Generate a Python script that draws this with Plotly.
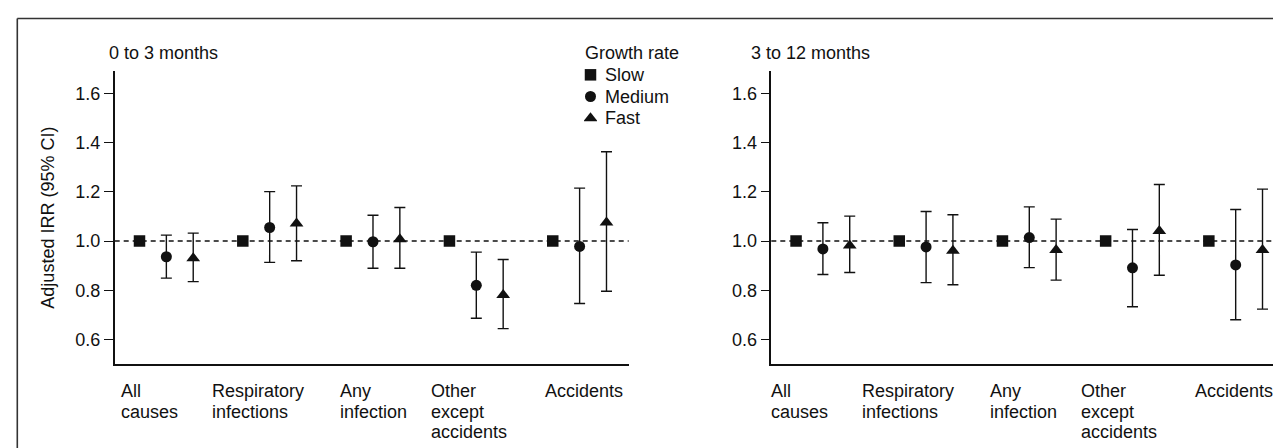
import plotly.graph_objects as go

# ---------------- data ----------------
categories = ["All causes", "Respiratory infections", "Any infection",
              "Other except accidents", "Accidents"]
category_label_lines = [["All", "causes"], ["Respiratory", "infections"], ["Any", "infection"],
                        ["Other", "except", "accidents"], ["Accidents"]]
periods = ["0 to 3 months", "3 to 12 months"]
growth_groups = ["Slow", "Medium", "Fast"]
legend_title = "Growth rate"
y_title = "Adjusted IRR (95% CI)"
y_ticks = [0.6, 0.8, 1.0, 1.2, 1.4, 1.6]

# reference group (Slow) = 1.0
slow_03 = [1.0, 1.0, 1.0, 1.0, 1.0]
medium_03 = [0.936, 1.055, 0.997, 0.820, 0.978]
medium_03_lo = [0.849, 0.913, 0.889, 0.686, 0.746]
medium_03_hi = [1.024, 1.201, 1.105, 0.955, 1.215]
fast_03 = [0.930, 1.071, 1.007, 0.781, 1.075]
fast_03_lo = [0.835, 0.920, 0.889, 0.644, 0.796]
fast_03_hi = [1.032, 1.224, 1.136, 0.925, 1.363]

slow_312 = [1.0, 1.0, 1.0, 1.0, 1.0]
medium_312 = [0.968, 0.976, 1.014, 0.891, 0.903]
medium_312_lo = [0.864, 0.831, 0.892, 0.733, 0.680]
medium_312_hi = [1.074, 1.120, 1.139, 1.047, 1.128]
fast_312 = [0.982, 0.960, 0.963, 1.041, 0.963]
fast_312_lo = [0.872, 0.822, 0.841, 0.861, 0.723]
fast_312_hi = [1.101, 1.107, 1.089, 1.230, 1.211]

# ---------------- layout constants ----------------
W, H = 1281, 448
FONT = "Liberation Sans, Arial, Helvetica, sans-serif"
FS = 18
INK = "#111111"
OFFSET = 0.26
SYMBOLS = {"Slow": "square", "Medium": "circle", "Fast": "triangle-up"}
SIZES = {"Slow": 11.5, "Medium": 11, "Fast": 12}
label_shift_px = [-47.5, -59.6, -35, -47.7, -37.1]
panel_label_shift = [0, -6]
label_top_px = 383
label_line_px = 20.7
title_left_px = [99, 740.7]
x_domains = [[106.7 / W, 620.7 / W], [763.3 / W, 1276.7 / W]]
y_domain = [1 - 356 / H, 1 - 63.3 / H]
legend_key_domain_x = [576 / W, 589 / W]
legend_key_domain_y = [1 - 121 / H, 1 - 56 / H]

panels = [
    (slow_03, medium_03, medium_03_lo, medium_03_hi, fast_03, fast_03_lo, fast_03_hi),
    (slow_312, medium_312, medium_312_lo, medium_312_hi, fast_312, fast_312_lo, fast_312_hi),
]

fig = go.Figure()
n = len(categories)
idx = list(range(n))

for p, (slow, med, med_lo, med_hi, fast, fast_lo, fast_hi) in enumerate(panels):
    xa = "x" if p == 0 else "x2"
    ya = "y" if p == 0 else "y2"
    fig.add_trace(go.Scatter(
        x=[i - OFFSET for i in idx], y=slow, mode="markers", name="Slow",
        xaxis=xa, yaxis=ya, showlegend=False, customdata=categories,
        marker=dict(symbol=SYMBOLS["Slow"], size=SIZES["Slow"], color=INK),
    ))
    fig.add_trace(go.Scatter(
        x=idx, y=med, mode="markers", name="Medium",
        xaxis=xa, yaxis=ya, showlegend=False, customdata=categories,
        marker=dict(symbol=SYMBOLS["Medium"], size=SIZES["Medium"], color=INK),
        error_y=dict(type="data", symmetric=False,
                     array=[h - v for h, v in zip(med_hi, med)],
                     arrayminus=[v - l for v, l in zip(med, med_lo)],
                     color=INK, thickness=1.4, width=5.5),
    ))
    fig.add_trace(go.Scatter(
        x=[i + OFFSET for i in idx], y=fast, mode="markers", name="Fast",
        xaxis=xa, yaxis=ya, showlegend=False, customdata=categories,
        marker=dict(symbol=SYMBOLS["Fast"], size=SIZES["Fast"], color=INK),
        error_y=dict(type="data", symmetric=False,
                     array=[h - v for h, v in zip(fast_hi, fast)],
                     arrayminus=[v - l for v, l in zip(fast, fast_lo)],
                     color=INK, thickness=1.4, width=5.5),
    ))

# legend keys: one marker per growth group on a small key axis (row index)
for r, g in enumerate(growth_groups):
    fig.add_trace(go.Scatter(
        x=[0], y=[r], mode="markers", name=g, xaxis="x3", yaxis="y3",
        showlegend=False, hoverinfo="skip",
        marker=dict(symbol=SYMBOLS[g], size=SIZES[g], color=INK),
    ))

axis_common_x = dict(range=[-0.5, 4.475], showline=True, linecolor=INK, linewidth=1.5,
                     showgrid=False, zeroline=False, showticklabels=False, ticks="",
                     fixedrange=True)
axis_common_y = dict(range=[0.5, 1.69], domain=y_domain, showline=True, linecolor=INK,
                     linewidth=1.5, showgrid=False, zeroline=False, ticks="outside",
                     ticklen=9, tickwidth=1.3, tickcolor=INK, tickvals=y_ticks,
                     tickformat=".1f", tickfont=dict(family=FONT, size=FS, color=INK),
                     fixedrange=True)
hidden_axis = dict(visible=False, showgrid=False, zeroline=False, fixedrange=True)

txt = dict(family=FONT, size=FS, color=INK)
annotations = []
shapes = []
for p in range(2):
    xa = "x" if p == 0 else "x2"
    ya = "y" if p == 0 else "y2"
    annotations.append(dict(text=periods[p], xref="paper", yref="paper",
                            x=title_left_px[p] / W, y=1 - 45 / H, xanchor="left",
                            yanchor="middle", showarrow=False, font=txt))
    for i, lines in enumerate(category_label_lines):
        for k, line in enumerate(lines):
            annotations.append(dict(text=line, xref=xa, yref="paper", x=i,
                                    xshift=label_shift_px[i] + panel_label_shift[p],
                                    y=1 - (label_top_px + k * label_line_px) / H,
                                    xanchor="left", yanchor="middle", align="left",
                                    showarrow=False, font=txt))
    shapes.append(dict(type="line", xref=f"{xa} domain", yref=ya, x0=0, x1=1, y0=1, y1=1,
                       line=dict(color=INK, width=1.3, dash="5px,4px"), layer="below"))

annotations.append(dict(text=y_title, xref="paper", yref="paper",
                        x=40 / W, y=(y_domain[0] + y_domain[1]) / 2, textangle=-90,
                        xanchor="center", yanchor="middle", showarrow=False, font=txt))
annotations.append(dict(text=legend_title, xref="paper", yref="paper",
                        x=575 / W, y=1 - 45 / H, xanchor="left", yanchor="middle",
                        showarrow=False, font=txt))
for r, g in enumerate(growth_groups):
    annotations.append(dict(text=g, xref="x3", yref="y3", x=0, y=r, xshift=12,
                            xanchor="left", yanchor="middle", showarrow=False, font=txt))

shapes.append(dict(type="line", xref="paper", yref="paper", x0=9.3 / W, x1=1,
                   y0=1 - 10.5 / H, y1=1 - 10.5 / H, line=dict(color="#333333", width=1.6)))
shapes.append(dict(type="line", xref="paper", yref="paper", x0=9.3 / W, x1=9.3 / W,
                   y0=1 - 10.5 / H, y1=0, line=dict(color="#333333", width=1.6)))

fig.update_layout(
    width=W, height=H,
    margin=dict(l=0, r=0, t=0, b=0),
    paper_bgcolor="white", plot_bgcolor="white",
    font=txt,
    xaxis=dict(domain=x_domains[0], anchor="y", **axis_common_x),
    xaxis2=dict(domain=x_domains[1], anchor="y2", **axis_common_x),
    yaxis=dict(anchor="x", **axis_common_y),
    yaxis2=dict(anchor="x2", **axis_common_y),
    xaxis3=dict(domain=legend_key_domain_x, anchor="y3", range=[-0.5, 0.5], **hidden_axis),
    yaxis3=dict(domain=legend_key_domain_y, anchor="x3", range=[2.5, -0.5], **hidden_axis),
    showlegend=False,
    annotations=annotations,
    shapes=shapes,
)

fig.write_html("out.html")
